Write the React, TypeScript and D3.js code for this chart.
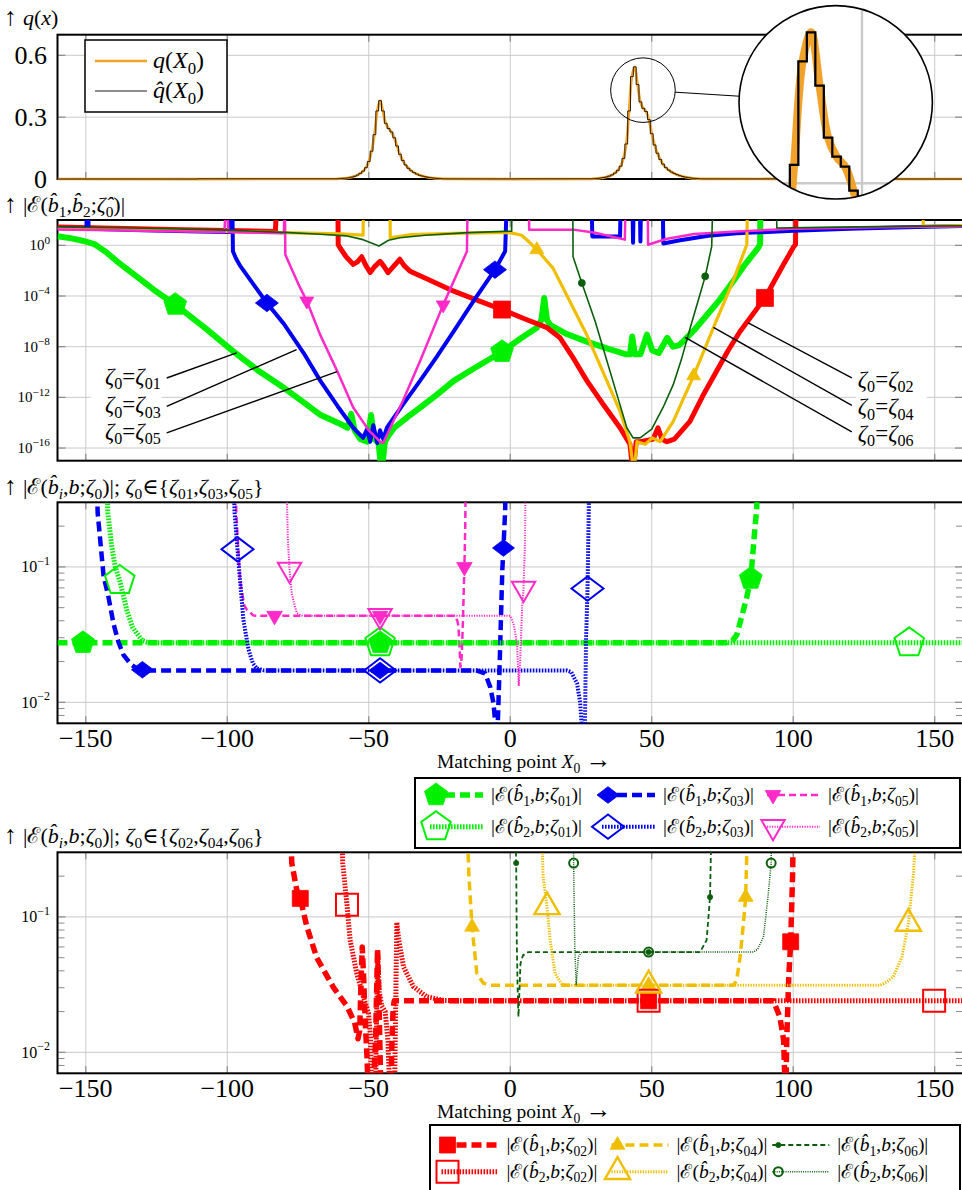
import React from "react";
import * as d3 from "d3";

type Pt = [number, number];
type Part = { t: string; it?: boolean; sub?: boolean; sup?: boolean; big?: number };

const FONT = "'Liberation Serif', 'DejaVu Serif', serif";

const GREEN = "#00f000";
const RED = "#ff0000";
const BLUE = "#0000f0";
const MAGENTA = "#ff2ac8";
const GOLD = "#f0be00";
const DKGREEN = "#0b5e0b";
const ORANGE = "#f0a22a";
const GRID = "#cacaca";

// Matching-point axis shared by all panels
const xTickValues = [-150, -100, -50, 0, 50, 100, 150];

// ---------- panel 1: density q(X0), one value per unit bin ----------
const qLeftFirstBin = -61;
const qLeftBins = [
  0.001, 0.002, 0.003, 0.004, 0.006, 0.009, 0.013, 0.019, 0.027, 0.038, 0.055, 0.085, 0.135,
  0.215, 0.33, 0.38, 0.33, 0.27, 0.245, 0.228, 0.2, 0.16, 0.12, 0.09, 0.068, 0.052, 0.04,
  0.031, 0.024, 0.018, 0.014, 0.011, 0.008, 0.006, 0.0045, 0.003, 0.002, 0.001, 0.0005,
];
const qRightFirstBin = 29;
const qRightBins = [
  0.001, 0.002, 0.003, 0.005, 0.007, 0.01, 0.014, 0.02, 0.029, 0.042, 0.062, 0.1, 0.17, 0.33,
  0.497, 0.544, 0.458, 0.374, 0.343, 0.327, 0.288, 0.22, 0.165, 0.125, 0.095, 0.072, 0.055,
  0.043, 0.034, 0.027, 0.021, 0.016, 0.012, 0.009, 0.0065, 0.0045, 0.003, 0.002, 0.001, 0.0005,
];
const qTickValues = [0, 0.3, 0.6];

// ---------- panel 2: log10 |E(b1,b2;zeta0)| per initial value ----------
const UP = 3; // leaves the frame upwards
const DOWN = -18; // leaves the frame downwards
const errTickExponents = [0, -4, -8, -12, -16];

const errZeta01: Pt[] = [
  [-160, 0.72], [-155, 0.55], [-150, 0.3], [-147, 0.1], [-143, -0.5], [-139, -1.26], [-133, -2.3],
  [-126, -3.5], [-118.4, -4.68], [-108, -6.5], [-98, -8.35], [-89, -9.9], [-80, -11.25], [-73, -12.4],
  [-67, -13.4], [-61, -14.0], [-57.5, -14.4], [-56.2, -13.3], [-55, -14.6], [-53, -15.3], [-50.5, -15.5],
  [-49.2, -13.4], [-48, -15.3], [-46.5, -15.6], [-45.5, DOWN], [-44.3, -15.5], [-43, -15], [-41, -14.4],
  [-36, -13.5], [-31.8, -12.8], [-26, -11.8], [-20, -10.7], [-12, -9.6], [-2.9, -8.4], [4, -7.3],
  [9.4, -6.5], [11, -5.9], [12, -4.15], [13, -5.9], [14.2, -6.3], [20, -7.0], [27, -7.6], [35, -8.2],
  [41, -8.6], [42.3, -8.6], [43.1, -7.2], [44, -8.6], [46, -8.6], [48.3, -7.05], [50.2, -8.3],
  [52.5, -8.5], [55.5, -7.3], [57.5, -8.0], [59.5, -7.9], [61, -7.6], [65, -6.7], [69.5, -5.5],
  [74, -4.3], [78.8, -2.84], [83, -1.5], [87.6, -0.2], [88.3, 0.1], [88.4, UP],
];
const markZeta01 = [-118.4, -2.9];

const errZeta02: Pt[] = [
  [-160, 1.45], [-140, 1.35], [-120, 1.25], [-100, 1.17], [-83, 1.1], [-82.6, UP], [-60.9, UP],
  [-60.8, 0.05], [-60, -0.25], [-58, -0.9], [-55.5, -1.5], [-54, -1.3], [-52.5, -0.9], [-51, -1.6],
  [-49.5, -2.15], [-48, -1.7], [-46, -1.26], [-44.5, -1.7], [-43.2, -2.15], [-41, -1.6], [-39, -1.1],
  [-37.5, -1.6], [-35.4, -2.05], [-28, -2.8], [-20.2, -3.6], [-12, -4.3], [-2.9, -5.07], [5, -5.8],
  [13, -6.5], [17.6, -7.3], [22, -8.8], [27.1, -10.7], [33, -12.6], [38.8, -14.4], [42.3, -15.7],
  [43.4, DOWN], [44.5, -15.5], [46, -15.5], [50.5, -15.3], [52.2, -14.4], [53.6, -15.3], [55.4, -15.5],
  [58, -15.3], [63.5, -13.9], [68, -11.9], [73, -9.9], [77, -8.3], [81.2, -6.8], [90, -4.15],
  [96.6, -1.5], [100.2, -0.1], [100.8, 0.05], [101, UP],
];
const markZeta02 = [-2.9, 90];

const errZeta03: Pt[] = [
  [-160, 1.35], [-151, 1.3], [-149.8, 1.3], [-149.6, UP], [-149.2, UP], [-149, 1.3], [-130, 1.2],
  [-110, 1.1], [-98.8, 1.05], [-98.6, UP], [-98.2, UP], [-98, -0.47], [-97, -1.0], [-95.5, -1.6],
  [-91, -3.0], [-86, -4.55], [-80, -6.2], [-73, -8.5], [-67.1, -10.7], [-61, -12.7], [-55.5, -14.4],
  [-52, -15.2], [-50.6, -14.5], [-49.5, -15.5], [-48.4, -14.2], [-47, -15.6], [-46, -14.6],
  [-44.9, -15.3], [-43.6, -14.4], [-38, -12.6], [-31.9, -10.7], [-26, -8.8], [-20, -6.8], [-13, -4.4],
  [-5.4, -1.92], [-1.8, -0.47], [-1.3, UP], [28.8, UP], [29, 0.7], [38.8, 0.7], [39, UP], [43.2, UP],
  [43.4, 0.2], [43.6, UP], [45.8, UP], [46, 0.3], [46.2, UP], [53.9, UP], [54.1, 0.15], [60, 0.4],
  [70, 0.75], [80, 0.95], [100, 1.15], [120, 1.3], [140, 1.42], [160, 1.52],
];
const markZeta03 = [-86, -5.4];

const errZeta04: Pt[] = [
  [-160, 1.35], [-120, 1.2], [-80, 1.0], [-60, 0.9], [-52, 0.8], [-51.9, UP], [-42.5, UP],
  [-42.4, 0.6], [-35, 0.85], [-20, 0.95], [-5, 1.0], [0, 1.0], [4, 0.8], [6.5, 0.3], [9.4, -0.34],
  [12, -1.0], [15.1, -1.8], [21, -4.4], [27, -7.05], [33, -10.1], [38.8, -13.1], [42.3, -15.5],
  [43.7, DOWN], [44.8, -15.5], [47.7, -15.7], [50.2, -15.2], [53, -15.5], [57.6, -13.9], [61, -12.2],
  [64.8, -10.3], [71.8, -6.5], [78.7, -2.84], [83.6, 0.05], [83.8, UP], [145.8, UP], [146, 1.5],
  [160, 1.55],
];
const markZeta04 = [9.4, 64.8];

const errZeta05: Pt[] = [
  [-160, 1.25], [-140, 1.2], [-120, 1.12], [-101, 1.05], [-100.6, UP], [-100, UP], [-99.6, 1.05],
  [-85, 0.98], [-80, 0.95], [-79.8, UP], [-79.6, UP], [-79.5, -0.73], [-78, -1.5], [-75, -3.0],
  [-71.9, -4.4], [-67.2, -7.05], [-61, -10.0], [-55.5, -12.8], [-50, -14.6], [-46, -15.5],
  [-44.9, -15.6], [-38, -12.3], [-31.9, -9.15], [-23.7, -4.7], [-15.3, -0.47], [-15.1, UP], [6.6, UP],
  [6.7, 1.24], [22.3, 1.24], [30, 1.0], [40.5, 0.45], [40.7, UP], [48.6, UP], [48.7, 0.05], [55, 0.5],
  [65, 0.9], [80, 1.1], [100, 1.3], [130, 1.42], [160, 1.5],
];
const markZeta05 = [-71.9, -23.7];

const errZeta06: Pt[] = [
  [-160, 1.45], [-130, 1.35], [-100, 1.2], [-80, 1.02], [-67, 0.88], [-58, 0.75], [-52, 0.45],
  [-46.4, -0.05], [-43, 0.4], [-39, 0.6], [-30, 0.8], [-15, 1.0], [-2, 1.1], [0.5, 1.12], [0.6, UP],
  [22.1, UP], [22.2, -0.9], [25.3, -2.97], [30, -6.0], [34.2, -9.15], [38, -12], [41.2, -14.4],
  [43.4, -15.2], [45.9, -15.2], [50, -14.5], [54, -12.8], [57.6, -11], [60.5, -9], [63.6, -6.5],
  [66.5, -4.3], [68.9, -2.45], [71.2, -0.08], [71.5, UP], [94.1, UP], [94.2, 1.37], [110, 1.42],
  [130, 1.48], [160, 1.55],
];
const markZeta06 = [25.3, 68.9];

// ---------- panels 3 & 4: |E(b_i, b; zeta0)| ----------
const TOP = 0.6; // above the frame
const FLOOR = 0.005; // below the frame
const ratioMajor = [0.1, 0.01];
const ratioMinor = [0.2, 0.09, 0.08, 0.07, 0.06, 0.05, 0.04, 0.03, 0.02, 0.009, 0.008];

const b1Zeta01: Pt[] = [
  [-160, 0.0275], [-151, 0.0275], [-46, 0.0275], [76, 0.0275], [78.5, 0.0285], [80.1, 0.0316],
  [82.4, 0.048], [83.6, 0.06], [85, 0.082], [86.2, 0.166], [87.1, 0.27], [87.4, TOP],
];
const b1Zeta03: Pt[] = [
  [-146.3, TOP], [-145.8, 0.25], [-143.7, 0.0851], [-142, 0.06], [-140.2, 0.038], [-138.5, 0.028],
  [-136.7, 0.0224], [-134, 0.019], [-132, 0.0178], [-130, 0.0174], [-128, 0.0172], [-46, 0.0172],
  [-12, 0.0172], [-10.5, 0.0168], [-8.9, 0.0164], [-7.1, 0.013], [-5.9, 0.0098], [-5.3, 0.007],
  [-5.1, FLOOR], [-4.6, FLOOR], [-4.4, 0.007], [-3.8, 0.0174], [-3.3, 0.0407], [-2.8, 0.0955],
  [-2.4, 0.138], [-1.8, 0.263], [-1.5, TOP],
];
const b1Zeta05: Pt[] = [
  [-97.2, TOP], [-96.8, 0.25], [-95.5, 0.0794], [-94, 0.052], [-93, 0.048], [-90.7, 0.0437],
  [-88, 0.0435], [-83.3, 0.0435], [-46, 0.0435], [-19.5, 0.0435], [-18.7, 0.04], [-18.3, 0.0363],
  [-17.9, 0.025], [-17.6, 0.0182], [-17.2, 0.021], [-16.8, 0.035], [-16.5, 0.06], [-16.2, 0.1],
  [-15.9, 0.2], [-15.7, TOP],
];
const b2Zeta01: Pt[] = [
  [-142.8, TOP], [-142.2, 0.25], [-140.8, 0.14], [-139.6, 0.1], [-138, 0.0794], [-135.5, 0.048],
  [-133.5, 0.036], [-132, 0.0324], [-130, 0.0285], [-128.4, 0.0278], [-125, 0.0275], [-46, 0.0275],
  [141, 0.0275], [160, 0.0275],
];
const b2Zeta03: Pt[] = [
  [-98, TOP], [-97.4, 0.25], [-96.4, 0.135], [-95.5, 0.0794], [-94.3, 0.0407], [-92.5, 0.0245],
  [-91, 0.0195], [-89.6, 0.0178], [-87, 0.0172], [-46, 0.0172], [20, 0.0172], [21.5, 0.0168],
  [23.6, 0.0138], [24.7, 0.01], [25.3, 0.0065], [25.7, FLOOR], [26.1, FLOOR], [26.4, 0.007],
  [26.8, 0.0302], [27.3, 0.0692], [28, TOP],
];
const b2Zeta05: Pt[] = [
  [-79.2, TOP], [-78.6, 0.16], [-78, 0.0955], [-77.2, 0.0631], [-76, 0.05], [-75.4, 0.0457],
  [-73.7, 0.0437], [-70, 0.0435], [-46, 0.0435], [0, 0.0435], [1.2, 0.038], [2.4, 0.0269],
  [3, 0.0132], [3.5, 0.02], [4.2, 0.05], [4.7, 0.0692], [5.2, 0.15], [5.5, TOP],
];

const b1Zeta02: Pt[] = [
  [-78, TOP], [-77.2, 0.25], [-75.5, 0.16], [-74.2, 0.137], [-71.9, 0.0851], [-68.4, 0.05],
  [-62.5, 0.0302], [-57.7, 0.0219], [-55, 0.0166], [-53.8, 0.0126], [-53.2, 0.0145], [-52.7, 0.035],
  [-52.3, 0.06], [-51.8, 0.035], [-51.2, 0.016], [-50.6, 0.009], [-50.2, FLOOR], [-48.5, FLOOR],
  [-47.6, 0.012], [-47.2, 0.03], [-46.9, 0.058], [-46.5, 0.03], [-46.1, 0.012], [-45.7, FLOOR],
  [-42.2, FLOOR], [-41.8, 0.012], [-41.4, 0.021], [-41, 0.024], [48.9, 0.024], [93, 0.024],
  [95.3, 0.0182], [96.6, 0.0123], [96.9, 0.0079], [97.1, FLOOR], [97.4, FLOOR], [97.7, 0.012],
  [98.4, 0.035], [99.1, 0.0655], [99.8, 0.21], [100.1, TOP],
];
const b1Zeta04: Pt[] = [
  [-15.4, TOP], [-14.6, 0.2], [-13.5, 0.0844], [-11.8, 0.0383], [-9.5, 0.0324], [-7, 0.0313],
  [48.9, 0.0313], [78.9, 0.0313], [80, 0.034], [81.2, 0.05], [82.4, 0.0894], [83.2, 0.14],
  [83.6, 0.3], [83.8, TOP],
];
const b1Zeta06: Pt[] = [
  [1.6, TOP], [2.1, 0.25], [2.3, 0.0675], [2.6, 0.03], [2.9, 0.0183], [3.3, 0.03], [3.6, 0.045],
  [4.5, 0.052], [6.4, 0.055], [48.9, 0.055], [67.1, 0.055], [69.4, 0.0675], [70.6, 0.14], [71.2, TOP],
];
const b2Zeta02: Pt[] = [
  [-59.7, TOP], [-59.2, 0.25], [-57.7, 0.123], [-56.6, 0.0676], [-54.2, 0.038], [-51.9, 0.0257],
  [-50.1, 0.0195], [-49.4, 0.013], [-49, FLOOR], [-47.6, FLOOR], [-47.2, 0.02], [-46.8, 0.052],
  [-46.3, 0.028], [-45.4, 0.022], [-44.2, 0.02], [-43.2, 0.012], [-42.6, FLOOR], [-40.9, FLOOR],
  [-40.4, 0.03], [-40.1, 0.091], [-39.5, 0.07], [-37.7, 0.0427], [-34.2, 0.0305], [-29.5, 0.0257],
  [-23.6, 0.0242], [-18, 0.024], [48.9, 0.024], [149.8, 0.024], [160, 0.024],
];
const b2Zeta04: Pt[] = [
  [11, TOP], [11.6, 0.2], [13, 0.1186], [14.1, 0.0675], [15.8, 0.0383], [18.2, 0.032], [21, 0.0313],
  [48.9, 0.0313], [130.7, 0.0313], [133, 0.033], [135.4, 0.0363], [138.4, 0.0507], [140.7, 0.0894],
  [142.5, 0.209], [143.7, TOP],
];
const b2Zeta06: Pt[] = [
  [22.3, TOP], [22.4, 0.25], [22.8, 0.06], [23.3, 0.0313], [23.7, 0.04], [24.1, 0.0507],
  [25.3, 0.055], [48.9, 0.055], [86, 0.055], [87.5, 0.058], [89.5, 0.0713], [91.2, 0.149],
  [92.2, 0.25], [92.5, TOP],
];

// ---------- text helpers ----------
const N = (t: string): Part => ({ t });
const I = (t: string): Part => ({ t, it: true });
const S = (t: string, it = false): Part => ({ t, sub: true, it });
const P = (t: string): Part => ({ t, sup: true });
const BHAT = "b\u0302";

function Rich({ parts, x, y, size, anchor = "start", smallScale = 0.7 }: any) {
  let cur = 0;
  const kids = parts.map((p: Part, i: number) => {
    const small = p.sub || p.sup;
    const target = p.sub ? size * 0.24 : p.sup ? -size * 0.45 : 0;
    const dy = target - cur;
    cur = target;
    const fs = p.big ? size * p.big : small ? size * smallScale : size;
    return (
      <tspan key={i} dy={dy} fontSize={fs} fontStyle={p.it ? "italic" : "normal"}>
        {p.t}
      </tspan>
    );
  });
  return (
    <text x={x} y={y} fontSize={size} textAnchor={anchor} fill="#000" fontFamily={FONT} style={{ whiteSpace: "pre" }}>
      {kids}
    </text>
  );
}

const ARROW: Part = { t: "↑ ", big: 1.15 };
const zetaEq = (id: string): Part[] => [I("ζ"), S("0"), N("="), I("ζ"), S(id)];
const errLabel = (bi: string, id: string): Part[] => [
  N("|ℰ("), I(BHAT), S(bi), N(","), I("b"), N(";"), I("ζ"), S(id), N(")|"),
];
const xLabel: Part[] = [N("Matching point "), I("X"), S("0"), N(" "), { t: "→", big: 1.35 }];
const fmtTick = (t: number) => (t < 0 ? "\u2212" + Math.abs(t) : String(t));

// ---------- markers ----------
function markerPath(shape: string, s: number): string {
  const poly = (arr: number[][]) => "M" + arr.map((p) => p[0].toFixed(2) + "," + p[1].toFixed(2)).join("L") + "Z";
  switch (shape) {
    case "pentagon":
      return poly([0, 1, 2, 3, 4].map((k) => {
        const a = ((-90 + 72 * k) * Math.PI) / 180;
        return [s * Math.cos(a), s * Math.sin(a)];
      }));
    case "square":
      return poly([[-s / 2, -s / 2], [s / 2, -s / 2], [s / 2, s / 2], [-s / 2, s / 2]]);
    case "diamond":
      return poly([[-s, 0], [0, -s * 0.76], [s, 0], [0, s * 0.76]]);
    case "triUp":
      return poly([[0, -s], [0.866 * s, 0.5 * s], [-0.866 * s, 0.5 * s]]);
    case "triDown":
      return poly([[0, s], [0.866 * s, -0.5 * s], [-0.866 * s, -0.5 * s]]);
    default:
      return "";
  }
}

function Marker({ shape, cx, cy, size, color, open = false, sw = 2 }: any) {
  if (shape === "circle") {
    return open ? (
      <circle cx={cx} cy={cy} r={size} fill="none" stroke={color} strokeWidth={sw} />
    ) : (
      <circle cx={cx} cy={cy} r={size} fill={color} stroke={color} strokeWidth={0.8} />
    );
  }
  return (
    <path
      d={markerPath(shape, size)}
      transform={`translate(${cx},${cy})`}
      fill={open ? "none" : color}
      stroke={color}
      strokeWidth={open ? sw : 0.8}
      strokeLinejoin="miter"
    />
  );
}

const LEFT = 57.5;
const RIGHT = 963;

function Grid({ x, y, top, bottom, yValues }: any) {
  return (
    <g>
      {xTickValues.map((t) => (
        <line key={"gx" + t} x1={x(t)} x2={x(t)} y1={top} y2={bottom} stroke={GRID} strokeWidth={1} />
      ))}
      {yValues.map((v: number) => (
        <line key={"gy" + v} x1={LEFT} x2={RIGHT} y1={y(v)} y2={y(v)} stroke={GRID} strokeWidth={1} />
      ))}
    </g>
  );
}

function Frame({ x, y, top, bottom, yValues, minor = [] }: any) {
  const tc = "#8a8a8a";
  return (
    <g>
      {xTickValues.map((t) => (
        <g key={"tx" + t}>
          <line x1={x(t)} x2={x(t)} y1={bottom} y2={bottom - 7} stroke={tc} strokeWidth={1.2} />
          <line x1={x(t)} x2={x(t)} y1={top} y2={top + 7} stroke={tc} strokeWidth={1.2} />
        </g>
      ))}
      {yValues.map((v: number) => (
        <g key={"ty" + v}>
          <line x1={LEFT} x2={LEFT + 8} y1={y(v)} y2={y(v)} stroke={tc} strokeWidth={1.2} />
          <line x1={RIGHT - 8} x2={RIGHT} y1={y(v)} y2={y(v)} stroke={tc} strokeWidth={1.2} />
        </g>
      ))}
      {minor.map((v: number) => (
        <g key={"tm" + v}>
          <line x1={LEFT} x2={LEFT + 7} y1={y(v)} y2={y(v)} stroke={tc} strokeWidth={1} />
          <line x1={RIGHT - 7} x2={RIGHT} y1={y(v)} y2={y(v)} stroke={tc} strokeWidth={1} />
        </g>
      ))}
      <rect x={LEFT} y={top} width={RIGHT - LEFT} height={bottom - top} fill="none" stroke="#000" strokeWidth={2} />
    </g>
  );
}

export default function App() {
  const x = d3.scaleLinear().domain([-160, 160]).range([LEFT, RIGHT]);
  const P1 = { top: 34.7, bottom: 179 };
  const P2 = { top: 220, bottom: 460.7 };
  const P3 = { top: 502.3, bottom: 723.3 };
  const P4 = { top: 852.3, bottom: 1073.3 };
  const y1 = d3.scaleLinear().domain([0, 0.7]).range([P1.bottom, P1.top]);
  const y2 = d3.scaleLog().domain([1e-17, 1e2]).range([P2.bottom, P2.top]);
  const y3 = d3.scaleLog().domain([0.007, 0.3]).range([P3.bottom, P3.top]);
  const y4 = d3.scaleLog().domain([0.007, 0.3]).range([P4.bottom, P4.top]);

  // ----- panel 1 -----
  const qPts: Pt[] = [
    [-160, 0],
    ...qLeftBins.map((v, i) => [qLeftFirstBin + i, v] as Pt),
    ...qRightBins.map((v, i) => [qRightFirstBin + i, v] as Pt),
    [160, 0],
  ];
  const qSmooth = d3.line<Pt>().x((d) => x(d[0])).y((d) => y1(d[1])).curve(d3.curveCatmullRom.alpha(0.5))(qPts) || "";
  const qStep = d3.line<Pt>().x((d) => x(d[0])).y((d) => y1(d[1])).curve(d3.curveStep)(qPts) || "";

  // lens: small circle around the right peak, magnified 3x into the big circle
  const lensC = [x(46.9), y1(0.431)];
  const lensR = 32.3;
  const bigC = [835.7, 102.3];
  const mag = 3;
  const bigR = lensR * mag - 0.2;
  const dir = [bigC[0] - lensC[0], bigC[1] - lensC[1]];
  const dl = Math.hypot(dir[0], dir[1]);
  const u = [dir[0] / dl, dir[1] / dl];

  // ----- panel 2 -----
  const line2 = d3.line<Pt>().x((d) => x(d[0])).y((d) => y2(Math.pow(10, d[1])));
  const series2 = [
    { pts: errZeta01, marks: markZeta01, color: GREEN, width: 6, shape: "pentagon", size: 12 },
    { pts: errZeta02, marks: markZeta02, color: RED, width: 5, shape: "square", size: 17 },
    { pts: errZeta03, marks: markZeta03, color: BLUE, width: 4, shape: "diamond", size: 11.5 },
    { pts: errZeta04, marks: markZeta04, color: GOLD, width: 3.2, shape: "triUp", size: 8 },
    { pts: errZeta05, marks: markZeta05, color: MAGENTA, width: 2.5, shape: "triDown", size: 8 },
    { pts: errZeta06, marks: markZeta06, color: DKGREEN, width: 1.6, shape: "circle", size: 3.5 },
  ];
  // leader lines for the curve names: [label id, from, to] in data coordinates (x, log10 value)
  const leadersLeft: [string, Pt, Pt][] = [
    ["01", [-121.4, -10.47], [-96.7, -8.49]],
    ["03", [-121.4, -12.71], [-75.5, -8.23]],
    ["05", [-121.4, -14.81], [-61.2, -9.97]],
  ];
  const leadersRight: [string, Pt, Pt][] = [
    ["02", [120.7, -10.47], [84.1, -6.12]],
    ["04", [120.7, -12.63], [71.8, -6.47]],
    ["06", [120.7, -14.73], [61.8, -7.26]],
  ];

  // ----- panels 3 & 4 -----
  const dashed = "10 5";
  const dotted = "1.6 1.4";
  const series3 = [
    { pts: b1Zeta01, marks: [-151, -46, 85], color: GREEN, width: 5.5, dash: dashed, shape: "pentagon", size: 12, bi: "1", id: "01" },
    { pts: b1Zeta03, marks: [-130, -46, -2.4], color: BLUE, width: 4.5, dash: dashed, shape: "diamond", size: 11, bi: "1", id: "03" },
    { pts: b1Zeta05, marks: [-83.3, -46, -16.2], color: MAGENTA, width: 2.5, dash: "7 4", shape: "triDown", size: 9, bi: "1", id: "05" },
    { pts: b2Zeta01, marks: [-138, -46, 141], color: GREEN, width: 5, dash: dotted, shape: "pentagon", size: 15.5, open: true, sw: 2, bi: "2", id: "01" },
    { pts: b2Zeta03, marks: [-96.4, -46, 27.3], color: BLUE, width: 4, dash: dotted, shape: "diamond", size: 16, open: true, sw: 2, bi: "2", id: "03" },
    { pts: b2Zeta05, marks: [-78, -46, 4.7], color: MAGENTA, width: 2, dash: "1.2 1.3", shape: "triDown", size: 13.5, open: true, sw: 2, bi: "2", id: "05" },
  ];
  const series4 = [
    { pts: b1Zeta02, marks: [-74.2, 48.9, 99.1], color: RED, width: 5.5, dash: dashed, shape: "square", size: 16, bi: "1", id: "02" },
    { pts: b1Zeta04, marks: [-13.5, 48.9, 83.2], color: GOLD, width: 3.5, dash: "9 5", shape: "triUp", size: 8.5, bi: "1", id: "04" },
    { pts: b1Zeta06, marks: [2.1, 48.9, 70.6], color: DKGREEN, width: 1.8, dash: "5 3", shape: "circle", size: 2.6, bi: "1", id: "06" },
    { pts: b2Zeta02, marks: [-57.7, 48.9, 149.8], color: RED, width: 5, dash: dotted, shape: "square", size: 22, open: true, sw: 2, bi: "2", id: "02" },
    { pts: b2Zeta04, marks: [13, 48.9, 140.7], color: GOLD, width: 3, dash: "1.3 1.3", shape: "triUp", size: 14.5, open: true, sw: 2.4, bi: "2", id: "04" },
    { pts: b2Zeta06, marks: [22.4, 48.9, 92.2], color: DKGREEN, width: 1.5, dash: "1 1.2", shape: "circle", size: 4.5, open: true, sw: 2, bi: "2", id: "06" },
  ];

  const renderSeries = (list: any[], y: any, clip: string) => (
    <g>
      <g clipPath={`url(#${clip})`}>
        {list.map((s, i) => {
          const path = d3.line<Pt>().x((d) => x(d[0])).y((d) => y(d[1]))(s.pts) || "";
          return (
            <path key={"l" + i} d={path} fill="none" stroke={s.color} strokeWidth={s.width}
              strokeDasharray={s.dash} strokeLinejoin="round" />
          );
        })}
      </g>
      {list.map((s, i) => (
        <g key={"m" + i}>
          {s.marks.map((mx: number) => {
            const p = s.pts.find((d: Pt) => d[0] === mx);
            if (!p) return null;
            return <Marker key={mx} shape={s.shape} cx={x(p[0])} cy={y(p[1])} size={s.size} color={s.color} open={s.open} sw={s.sw} />;
          })}
        </g>
      ))}
    </g>
  );

  const renderLegend = (list: any[], box: any, rows: number[], cols: number[], textOff: number) => (
    <g>
      <rect x={box.x} y={box.y} width={box.w} height={box.h} fill="#fff" stroke="#000" strokeWidth={2} />
      {list.map((s, i) => {
        const r = Math.floor(i / 3);
        const c = i % 3;
        const mx = cols[c];
        const my = rows[r];
        return (
          <g key={"lg" + i}>
            <line x1={mx - 6} x2={mx + textOff - 8} y1={my} y2={my} stroke={s.color} strokeWidth={s.width} strokeDasharray={s.dash} />
            <Marker shape={s.shape} cx={mx} cy={my} size={s.size} color={s.color} open={s.open} sw={s.sw} />
            <Rich parts={errLabel(s.bi, s.id)} x={mx + textOff} y={my + 6} size={19.5} />
          </g>
        );
      })}
    </g>
  );

  const yTickLabel = (v: number, y: any, size: number, exp: string, key: string) => (
    <Rich key={key} parts={[N("10"), P(exp)]} x={50} y={y(v) + size * 0.33} size={size} anchor="end" smallScale={0.75} />
  );

  return (
    <svg width={962} height={1190} viewBox="0 0 962 1190"
      style={{ position: "absolute", left: 0, top: 0, background: "#fff" }} fontFamily={FONT}>
      <defs>
        <clipPath id="c1"><rect x={LEFT} y={P1.top} width={RIGHT - LEFT} height={P1.bottom - P1.top + 2} /></clipPath>
        <clipPath id="c2"><rect x={LEFT} y={P2.top} width={RIGHT - LEFT} height={P2.bottom - P2.top} /></clipPath>
        <clipPath id="c3"><rect x={LEFT} y={P3.top} width={RIGHT - LEFT} height={P3.bottom - P3.top} /></clipPath>
        <clipPath id="c4"><rect x={LEFT} y={P4.top} width={RIGHT - LEFT} height={P4.bottom - P4.top} /></clipPath>
        <clipPath id="lens"><circle cx={lensC[0]} cy={lensC[1]} r={lensR} /></clipPath>
      </defs>
      <rect x={0} y={0} width={962} height={1190} fill="#fff" />

      {/* ===== panel 1 ===== */}
      <Rich parts={[ARROW, I("q"), N("("), I("x"), N(")")]} x={4} y={25} size={22} />
      <Grid x={x} y={y1} top={P1.top} bottom={P1.bottom} yValues={[0.3, 0.6]} />
      <Frame x={x} y={y1} top={P1.top} bottom={P1.bottom} yValues={[0.3, 0.6]} />
      <g clipPath="url(#c1)">
        <path d={qSmooth} fill="none" stroke={ORANGE} strokeWidth={2.7} strokeLinejoin="round" />
        <path d={qStep} fill="none" stroke="#000" strokeWidth={0.8} />
      </g>
      {qTickValues.map((v) => (
        <text key={"q" + v} x={47} y={y1(v) + 9} fontSize={26} textAnchor="end" fontFamily={FONT}>{String(v)}</text>
      ))}
      <g>
        <rect x={85} y={40} width={142} height={72} fill="#fff" stroke="#000" strokeWidth={1.5} />
        <line x1={95} x2={147} y1={61} y2={61} stroke={ORANGE} strokeWidth={2.7} />
        <Rich parts={[I("q"), N("("), I("X"), S("0"), N(")")]} x={153} y={68} size={24} />
        <line x1={95} x2={147} y1={91} y2={91} stroke="#000" strokeWidth={0.9} />
        <Rich parts={[I("q\u0302"), N("("), I("X"), S("0"), N(")")]} x={153} y={98} size={24} />
      </g>
      {/* magnifying lens */}
      <circle cx={lensC[0]} cy={lensC[1]} r={lensR} fill="none" stroke="#000" strokeWidth={1} />
      <line x1={lensC[0] + u[0] * lensR} y1={lensC[1] + u[1] * lensR} x2={bigC[0] - u[0] * bigR} y2={bigC[1] - u[1] * bigR}
        stroke="#000" strokeWidth={1} />
      <circle cx={bigC[0]} cy={bigC[1]} r={bigR} fill="#fff" stroke="none" />
      <g transform={`translate(${bigC[0]},${bigC[1]}) scale(${mag}) translate(${-lensC[0]},${-lensC[1]})`}>
        <g clipPath="url(#lens)">
          {xTickValues.map((t) => (
            <line key={"lx" + t} x1={x(t)} x2={x(t)} y1={P1.top} y2={P1.bottom} stroke={GRID} strokeWidth={0.8} />
          ))}
          {[0.3, 0.6].map((v) => (
            <line key={"ly" + v} x1={LEFT} x2={RIGHT} y1={y1(v)} y2={y1(v)} stroke={GRID} strokeWidth={0.8} />
          ))}
          <path d={qSmooth} fill="none" stroke={ORANGE} strokeWidth={2.7} strokeLinejoin="round" />
          <path d={qStep} fill="none" stroke="#000" strokeWidth={0.75} />
        </g>
      </g>
      <circle cx={bigC[0]} cy={bigC[1]} r={bigR} fill="none" stroke="#000" strokeWidth={1.6} />

      {/* ===== panel 2 ===== */}
      <Rich parts={[ARROW, N("|ℰ("), I(BHAT), S("1"), N(","), I(BHAT), S("2"), N(";"), I("ζ\u0302"), S("0"), N(")|")]}
        x={4} y={212} size={22} />
      <Grid x={x} y={(v: number) => y2(Math.pow(10, v))} top={P2.top} bottom={P2.bottom} yValues={errTickExponents} />
      <Frame x={x} y={(v: number) => y2(Math.pow(10, v))} top={P2.top} bottom={P2.bottom} yValues={errTickExponents} />
      {errTickExponents.map((e) =>
        yTickLabel(Math.pow(10, e), y2, 15, e === 0 ? "0" : "\u2212" + Math.abs(e), "e" + e)
      )}
      <g clipPath="url(#c2)">
        {series2.map((s, i) => (
          <path key={"s2" + i} d={line2(s.pts) || ""} fill="none" stroke={s.color} strokeWidth={s.width} strokeLinejoin="round" />
        ))}
      </g>
      {series2.map((s, i) => (
        <g key={"m2" + i}>
          {s.marks.map((mx) => {
            const p = s.pts.find((d) => d[0] === mx);
            if (!p) return null;
            return <Marker key={mx} shape={s.shape} cx={x(p[0])} cy={y2(Math.pow(10, p[1]))} size={s.size} color={s.color} />;
          })}
        </g>
      ))}
      {leadersLeft.map(([id, a, b]) => {
        const ax = x(a[0]);
        const ay = y2(Math.pow(10, a[1]));
        return (
          <g key={"ll" + id}>
            <line x1={ax} y1={ay} x2={x(b[0])} y2={y2(Math.pow(10, b[1]))} stroke="#000" strokeWidth={1.4} />
            <rect x={ax - 76} y={ay - 15} width={71} height={25} fill="#fff" />
            <Rich parts={zetaEq(id)} x={ax - 6} y={ay + 6} size={23} anchor="end" />
          </g>
        );
      })}
      {leadersRight.map(([id, a, b]) => {
        const ax = x(a[0]);
        const ay = y2(Math.pow(10, a[1]));
        return (
          <g key={"lr" + id}>
            <line x1={ax} y1={ay} x2={x(b[0])} y2={y2(Math.pow(10, b[1]))} stroke="#000" strokeWidth={1.4} />
            <rect x={ax + 4} y={ay - 12} width={71} height={25} fill="#fff" />
            <Rich parts={zetaEq(id)} x={ax + 6} y={ay + 9} size={23} />
          </g>
        );
      })}

      {/* ===== panel 3 ===== */}
      <Rich parts={[ARROW, N("|ℰ("), I(BHAT), S("i", true), N(","), I("b"), N(";"), I("ζ"), S("0"), N(")|; "),
        I("ζ"), S("0"), N("∈{"), I("ζ"), S("01"), N(","), I("ζ"), S("03"), N(","), I("ζ"), S("05"), N("}")]}
        x={4} y={494} size={22} />
      <Grid x={x} y={y3} top={P3.top} bottom={P3.bottom} yValues={ratioMajor} />
      <Frame x={x} y={y3} top={P3.top} bottom={P3.bottom} yValues={ratioMajor} minor={ratioMinor} />
      {renderSeries(series3, y3, "c3")}
      {yTickLabel(0.1, y3, 16, "\u22121", "r31")}
      {yTickLabel(0.01, y3, 16, "\u22122", "r32")}
      {xTickValues.map((t) => (
        <text key={"x3" + t} x={x(t)} y={747} fontSize={26} textAnchor="middle" fontFamily={FONT}>{fmtTick(t)}</text>
      ))}
      <Rich parts={xLabel} x={437} y={768} size={19.5} />
      {renderLegend(series3, { x: 415, y: 778, w: 545, h: 70 }, [795, 826.7], [436, 608, 773], 55)}

      {/* ===== panel 4 ===== */}
      <Rich parts={[ARROW, N("|ℰ("), I(BHAT), S("i", true), N(","), I("b"), N(";"), I("ζ"), S("0"), N(")|; "),
        I("ζ"), S("0"), N("∈{"), I("ζ"), S("02"), N(","), I("ζ"), S("04"), N(","), I("ζ"), S("06"), N("}")]}
        x={4} y={843} size={22} />
      <Grid x={x} y={y4} top={P4.top} bottom={P4.bottom} yValues={ratioMajor} />
      <Frame x={x} y={y4} top={P4.top} bottom={P4.bottom} yValues={ratioMajor} minor={ratioMinor} />
      {renderSeries(series4, y4, "c4")}
      {yTickLabel(0.1, y4, 16, "\u22121", "r41")}
      {yTickLabel(0.01, y4, 16, "\u22122", "r42")}
      {xTickValues.map((t) => (
        <text key={"x4" + t} x={x(t)} y={1097} fontSize={26} textAnchor="middle" fontFamily={FONT}>{fmtTick(t)}</text>
      ))}
      <Rich parts={xLabel} x={437} y={1118} size={19.5} />
      {renderLegend(series4, { x: 430, y: 1125, w: 530, h: 80 }, [1145, 1171.7], [447.5, 617.5, 778.3], 59)}
    </svg>
  );
}
